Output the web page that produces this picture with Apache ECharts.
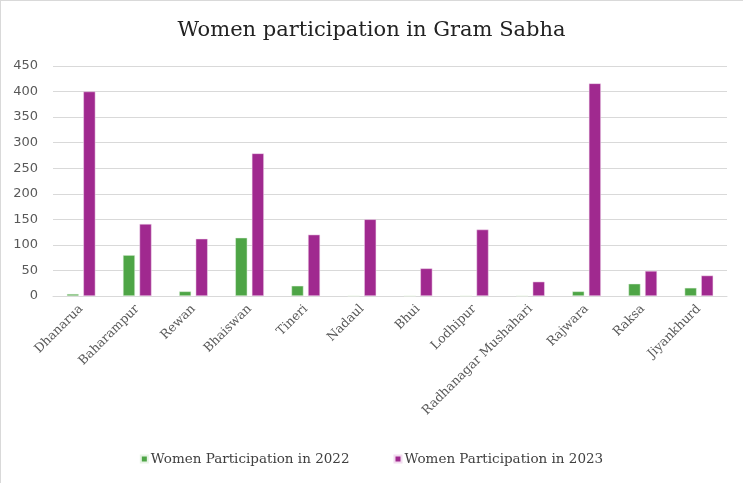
<!DOCTYPE html>
<html>
<head>
<meta charset="utf-8">
<script src="https://cdn.jsdelivr.net/npm/echarts@6/dist/echarts.min.js"></script>
<style>
html,body{margin:0;padding:0;background:#fff;}
#frame{position:absolute;left:0;top:0;width:743px;height:483px;box-sizing:border-box;border-top:1px solid #d9d9d9;border-left:1px solid #d9d9d9;}
#chart{position:absolute;left:0;top:0;width:743px;height:483px;}
</style>
</head>
<body>
<div id="frame"></div>
<div id="chart"></div>
<script>
var categories = ["Dhanarua","Baharampur","Rewan","Bhaiswan","Tineri","Nadaul","Bhui","Lodhipur","Radhanagar Mushahari","Rajwara","Raksa","Jiyankhurd"];
var women2022 = [4, 80, 9, 114, 20, 0, 0, 0, 0, 9, 24, 16];
var women2023 = [400, 141, 112, 279, 120, 150, 54, 130, 28, 416, 49, 40];
var seriesNames = ["Women Participation in 2022", "Women Participation in 2023"];
var titleText = "Women participation in Gram Sabha";

var chart = echarts.init(document.getElementById('chart'), null, {renderer:'canvas'});
var serif = "'DejaVu Serif', 'Liberation Serif', serif";
chart.setOption({
  animation: false,
  backgroundColor: 'transparent',
  title: {
    text: titleText,
    left: 'center',
    top: 15,
    textStyle: {fontFamily: serif, fontSize: 21, fontWeight: 'normal', color: '#222'}
  },
  legend: {
    bottom: 12,
    left: 'center',
    itemWidth: 7,
    itemHeight: 7,
    itemGap: 44,
    icon: 'rect',
    textStyle: {fontFamily: serif, fontSize: 13.5, color: '#404040', padding: [0,0,0,-2]},
    data: seriesNames
  },
  grid: {left: 53, right: 16, top: 66, bottom: 187, containLabel: false},
  xAxis: {
    type: 'category',
    data: categories,
    axisTick: {show: false},
    axisLine: {lineStyle: {color: '#d9d9d9', width: 1}},
    axisLabel: {
      rotate: 45,
      interval: 0,
      margin: 11,
      fontFamily: serif,
      fontSize: 12.5,
      color: '#595959'
    }
  },
  yAxis: {
    type: 'value',
    min: 0,
    max: 450,
    interval: 50,
    axisLine: {show: false},
    axisTick: {show: false},
    splitLine: {lineStyle: {color: '#d9d9d9', width: 1}},
    axisLabel: {fontFamily: "'DejaVu Sans', sans-serif", fontSize: 13, color: '#595959', margin: 15}
  },
  series: [
    {
      name: seriesNames[0],
      type: 'bar',
      data: women2022,
      barWidth: 12,
      barGap: '38%',
      itemStyle: {color: '#4ea546', borderColor: '#e8f4e6', borderWidth: 0.5}
    },
    {
      name: seriesNames[1],
      type: 'bar',
      data: women2023,
      barWidth: 12,
      itemStyle: {color: '#a0298f', borderColor: '#f2dcef', borderWidth: 0.5}
    }
  ]
});
</script>
</body>
</html>
